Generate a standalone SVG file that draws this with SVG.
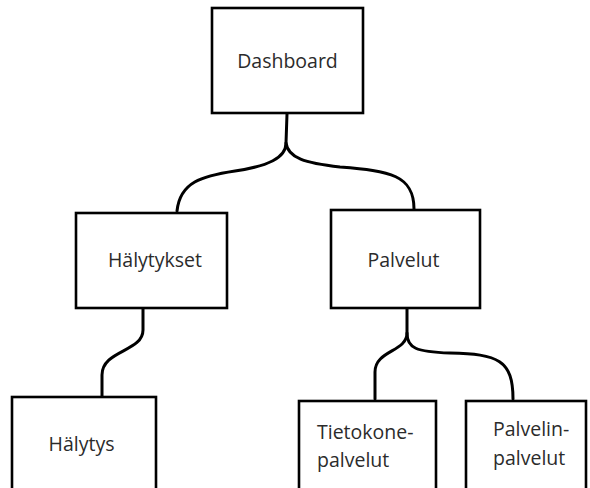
<svg xmlns="http://www.w3.org/2000/svg" width="590" height="488" viewBox="0 0 590 488">
<style>
.box{fill:#fff;stroke:#000;stroke-width:2.6}
.lbl{font-family:"Open Sans","Liberation Sans",sans-serif;font-size:19.5px;fill:#2b2b2b}
.c{fill:none;stroke:#000;stroke-width:3;stroke-linecap:round}
</style>
<rect width="590" height="488" fill="#fff"/>
<g id="connectors">
<path class="c" d="M287,114 L286,143 C286,158 268,166 235,171 C202,176 180,182 177,211"/>
<path class="c" d="M286,143 C288,158 305,163 340,167 C390,171 414,175 414,209"/>
<path class="c" d="M143,309 L143,330 C143,352 102,350 102,375 L102,396"/>
<path class="c" d="M407,309 L407,333 C407,352 375,350 375,372 L375,399"/>
<path class="c" d="M407,333 C407,348 416,352 450,353 C498,354 513,360 513,399"/>
</g>
<g id="dashboard">
<rect class="box" x="212" y="8" width="151" height="105"/>
<text class="lbl" x="287.5" y="68" text-anchor="middle">Dashboard</text>
</g>
<g id="halytykset">
<rect class="box" x="76" y="213" width="151" height="95"/>
<text class="lbl" x="155" y="267" text-anchor="middle">Hälytykset</text>
</g>
<g id="palvelut">
<rect class="box" x="331" y="210" width="149" height="98"/>
<text class="lbl" x="403.5" y="267" text-anchor="middle">Palvelut</text>
</g>
<g id="halytys">
<rect class="box" x="12" y="397" width="144" height="110"/>
<text class="lbl" x="81.5" y="451" text-anchor="middle">Hälytys</text>
</g>
<g id="tietokonepalvelut">
<rect class="box" x="299" y="401" width="137" height="110"/>
<text class="lbl" x="317" y="439">Tietokone-</text>
<text class="lbl" x="317" y="467">palvelut</text>
</g>
<g id="palvelinpalvelut">
<rect class="box" x="466" y="401" width="120" height="110"/>
<text class="lbl" x="493" y="436">Palvelin-</text>
<text class="lbl" x="493" y="465">palvelut</text>
</g>
</svg>
